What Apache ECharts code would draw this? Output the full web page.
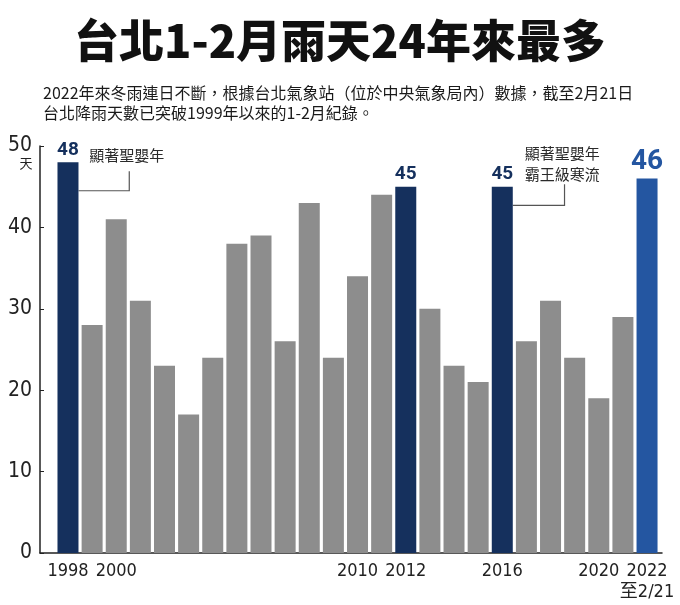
<!DOCTYPE html>
<html>
<head>
<meta charset="utf-8">
<script src="https://cdn.jsdelivr.net/npm/echarts@6/dist/echarts.min.js"></script>
<style>
html,body{margin:0;padding:0;background:#fff;}
#c{width:680px;height:605px;}
</style>
</head>
<body>
<div id="c"></div>
<script>
const years = [1998,1999,2000,2001,2002,2003,2004,2005,2006,2007,2008,2009,2010,2011,2012,2013,2014,2015,2016,2017,2018,2019,2020,2021,2022];
const rainDays = [48,28,41,31,23,17,24,38,39,26,43,24,34,44,45,30,23,21,45,26,31,24,19,29,46];
const highlightYears = [1998,2012,2016];
const latestYear = 2022;
const tickYears = [1998,2000,2010,2012,2016,2020,2022];
const yTicks = [0,10,20,30,40,50];
const titleText = '台北1-2月雨天24年來最多';
const subText = '2022年來冬雨連日不斷，根據台北氣象站（位於中央氣象局內）數據，截至2月21日\n台北降雨天數已突破1999年以來的1-2月紀錄。';
const note1 = ['顯著聖嬰年'];
const note2 = ['顯著聖嬰年','霸王級寒流'];

const NAVY = '#15305d', BLUE = '#2456a1', GRAY = '#8d8d8d';
const NARROW = "'Liberation Sans Narrow','DejaVu Sans Condensed','Roboto Condensed','Noto Sans CJK TC',sans-serif";
const CJK = "'Noto Sans CJK TC','Noto Sans CJK SC',sans-serif";

const chart = echarts.init(document.getElementById('c'), null, {renderer:'canvas'});

const barData = years.map((y,i) => {
  const v = rainDays[i];
  const isLatest = y === latestYear;
  const isHi = highlightYears.indexOf(y) >= 0;
  const item = {value:[y, v], itemStyle:{color: isLatest ? BLUE : (isHi ? NAVY : GRAY)}};
  if (isLatest || isHi) {
    item.label = {show:true, position:'top', distance:3,
      color: isLatest ? BLUE : NAVY,
      fontFamily: "Roboto,'DejaVu Sans',sans-serif", fontWeight:'bold',
      fontSize: isLatest ? 28 : 19};
  }
  return item;
});

chart.setOption({
  animation:false,
  backgroundColor:'#fff',
  title:[
    {text:titleText, left:'center', top:13,
     textStyle:{fontFamily:CJK, fontWeight:900, fontSize:45, color:'#111'}},
    {text:subText, left:38, top:78,
     textStyle:{fontFamily:CJK, fontWeight:'normal', fontSize:16, lineHeight:20, color:'#1a1a1a'}}
  ],
  grid:{left:40, right:18, top:146, bottom:52, containLabel:false},
  xAxis:{
    type:'value', min:1996.84, max:2022.62,
    splitLine:{show:false},
    axisLine:{show:true, onZero:false, lineStyle:{color:'#222', width:1.5}},
    axisTick:{show:true, customValues:tickYears, length:4, inside:true, lineStyle:{color:'#222'}},
    axisLabel:{show:true, customValues:tickYears, margin:8, color:'#222', fontFamily:NARROW, fontSize:18, lineHeight:21,
      formatter:v => v === latestYear ? v + '\n至2/21' : String(v)}
  },
  yAxis:{
    type:'value', min:0, max:50, interval:10,
    splitLine:{show:false},
    axisLine:{show:true, lineStyle:{color:'#222', width:1.5}},
    axisTick:{show:true, inside:true, length:4, lineStyle:{color:'#222'}},
    axisLabel:{margin:8, color:'#222', fontFamily:NARROW, fontSize:21},
    name:'天', nameLocation:'end', nameGap:-24,
    nameTextStyle:{fontFamily:CJK, fontSize:13, color:'#222', align:'center', padding:[0,28,0,0]}
  },
  series:[{
    type:'bar', data:barData, barWidth:21,
    label:{show:false}
  }]
});

function px(x, y){ return chart.convertToPixel({gridIndex:0}, [x, y]); }
const halfBar = 10.5;
function callout(barYear, lineVal, endYear, topVal, textYear, textVals, lines){
  const a = px(barYear, lineVal); a[0] += halfBar;
  const b = px(endYear, lineVal);
  const c = px(endYear, topVal);
  const els = [{
    type:'polyline', silent:true,
    shape:{points:[a,b,c]},
    style:{stroke:'#555', lineWidth:1.2, fill:null}
  }];
  lines.forEach((t,i) => {
    const p = px(textYear, textVals[i]);
    els.push({type:'text', x:p[0], y:p[1],
      style:{text:t, fontFamily:CJK, fontSize:15, fill:'#2a2a2a', textAlign:'left', textVerticalAlign:'middle'}});
  });
  return els;
}
const g = [].concat(
  callout(1998, 44.5, 2000.54, 46.9, 1998.88, [48.8], note1),
  callout(2016, 42.7, 2018.58, 45.3, 2016.93, [49.1, 46.5], note2)
);
chart.setOption({graphic:g});
</script>
</body>
</html>
